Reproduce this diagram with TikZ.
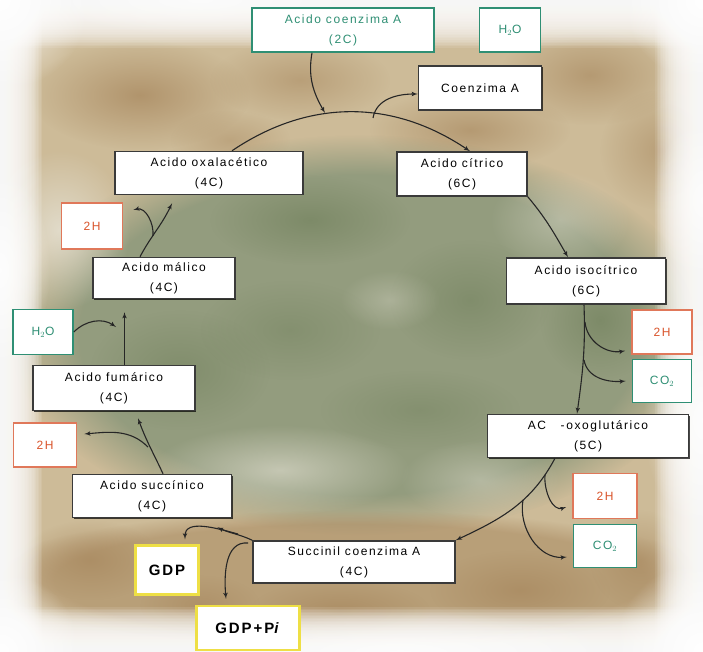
\documentclass[tikz,border=0pt]{standalone}
\usepackage{fontspec}
\setmainfont{Liberation Sans}[LetterSpace=13]
\usetikzlibrary{arrows,fadings,shadows}
\definecolor{edgegray}{HTML}{3A3A3A}
\definecolor{krebsgreen}{HTML}{2F8F74}
\definecolor{krebsred}{HTML}{D9542B}
\definecolor{redline}{HTML}{E0785A}
\definecolor{krebsyellow}{HTML}{EEDF45}
\definecolor{bgtan}{HTML}{CDBB98}
\definecolor{bgbrown}{HTML}{A5845A}
\definecolor{bggreen}{HTML}{8A977A}
\definecolor{bgdark}{HTML}{6F7F5A}
\definecolor{bglight}{HTML}{E6E3D6}
\tikzfading[name=softblob, inner color=transparent!0, outer color=transparent!100]
\tikzset{>=latex', x=1pt, y=1pt, font=\fontsize{12}{20}\selectfont}
\tikzstyle{acid} = [draw=edgegray, line width=1.5pt, fill=white, rectangle, align=center, minimum height=44,
	drop shadow={shadow xshift=1pt, shadow yshift=-1pt, opacity=.7, fill=black}]
\tikzstyle{gain} = [draw=krebsgreen, text=krebsgreen, line width=1.6pt, fill=white, rectangle, align=center, minimum height=44]
\tikzstyle{redox} = [draw=redline, text=krebsred, line width=1.6pt, fill=white, rectangle, align=center, minimum height=44]
\tikzstyle{gdpbox} = [draw=krebsyellow, line width=2.2pt, fill=white, rectangle, align=center, minimum height=46, font=\bfseries\fontsize{15}{15}\selectfont]
\tikzstyle{flow} = [->, line width=1.1pt, draw=black!85]
\tikzstyle{blob} = [path fading=softblob]

\begin{document}
\begin{tikzpicture}
	\useasboundingbox (0,0) rectangle (703,-652);

	% background
	\fill[bgtan] (0,0) rectangle (703,-652);
	\fill[bgbrown, opacity=.7, blob] (140,-95) ellipse [x radius=110, y radius=55];
	\fill[bgbrown, opacity=.5, blob] (300,-80) ellipse [x radius=90, y radius=40];
	\fill[bgbrown, opacity=.6, blob] (470,-130) ellipse [x radius=100, y radius=40];
	\fill[bgbrown, opacity=.6, blob] (590,-75) ellipse [x radius=90, y radius=50];
	\fill[bgbrown, opacity=.5, blob] (660,-150) ellipse [x radius=60, y radius=60];
	\fill[bgbrown, opacity=.4, blob] (230,-140) ellipse [x radius=60, y radius=30];
	\fill[bggreen, opacity=.85, path fading=circle with fuzzy edge 20 percent] (360,-335) ellipse [x radius=350, y radius=200];
	\fill[bgdark, opacity=.6, blob] (310,-220) ellipse [x radius=100, y radius=45];
	\fill[bgdark, opacity=.5, blob] (470,-300) ellipse [x radius=80, y radius=60];
	\fill[bgdark, opacity=.6, blob] (600,-320) ellipse [x radius=60, y radius=60];
	\fill[bgdark, opacity=.5, blob] (180,-370) ellipse [x radius=90, y radius=60];
	\fill[bgdark, opacity=.4, blob] (420,-410) ellipse [x radius=100, y radius=40];
	\fill[bgdark, opacity=.4, blob] (290,-330) ellipse [x radius=90, y radius=50];
	\fill[bglight, opacity=.8, blob] (60,-230) ellipse [x radius=70, y radius=80];
	\fill[bglight, opacity=.6, blob] (280,-470) ellipse [x radius=130, y radius=45];
	\fill[bglight, opacity=.4, blob] (480,-480) ellipse [x radius=80, y radius=40];
	\fill[bglight, opacity=.4, blob] (560,-220) ellipse [x radius=70, y radius=50];
	\fill[bglight, opacity=.3, blob] (390,-300) ellipse [x radius=50, y radius=30];
	\fill[bgbrown, opacity=.5, path fading=circle with fuzzy edge 20 percent] (350,-580) ellipse [x radius=370, y radius=70];
	\fill[bgbrown, opacity=.6, blob] (90,-560) ellipse [x radius=70, y radius=40];
	\fill[bgbrown, opacity=.5, blob] (200,-605) ellipse [x radius=60, y radius=30];
	\fill[bgbrown, opacity=.6, blob] (340,-610) ellipse [x radius=90, y radius=30];
	\fill[bgbrown, opacity=.6, blob] (520,-590) ellipse [x radius=90, y radius=40];
	\fill[bgbrown, opacity=.5, blob] (640,-560) ellipse [x radius=50, y radius=50];
	\foreach \k in {1,...,30} {
		\fill[white, opacity=.1] (0,0) rectangle (1.4*\k,-652);
		\fill[white, opacity=.1] (703,0) rectangle (703-1.6*\k,-652);
		\fill[white, opacity=.1] (0,0) rectangle (703,-1.6*\k);
		\fill[white, opacity=.1] (0,-652) rectangle (703,-652+1.5*\k);
	}
	\fill[white, blob] (0,0) circle (90);
	\fill[white, blob] (703,0) circle (80);
	\fill[white, blob] (0,-652) circle (80);
	\fill[white, blob] (703,-652) circle (90);
	\fill[white, opacity=.8, blob] (0,-270) ellipse [x radius=50, y radius=100];
	\fill[white, opacity=.8, blob] (703,-420) ellipse [x radius=60, y radius=110];
	\fill[white, opacity=.7, blob] (703,-200) ellipse [x radius=50, y radius=80];
	\fill[white, opacity=.7, blob] (400,-652) ellipse [x radius=220, y radius=40];
	\fill[white, opacity=.6, blob] (200,0) ellipse [x radius=160, y radius=35];

	% boxes
	\node [gain, minimum width=182] (acetyl) at (343,-30) {Acido coenzima A\\(2C)};
	\node [gain, minimum width=61] (h2otop) at (510,-30) {H$_2$O};
	\node [acid, minimum width=123] (coa) at (480,-88) {Coenzima A};
	\node [acid, minimum width=188, minimum height=43] (oxalo) at (209,-173) {Acido oxalacético\\(4C)};
	\node [acid, minimum width=130] (citric) at (462,-174) {Acido cítrico\\(6C)};
	\node [redox, minimum width=61, minimum height=46] (h2a) at (92,-226) {2H};
	\node [acid, minimum width=142, minimum height=41] (malic) at (164,-278) {Acido málico\\(4C)};
	\node [acid, minimum width=159, minimum height=46] (isocitric) at (586,-281) {Acido isocítrico\\(6C)};
	\node [gain, minimum width=60, minimum height=45] (h2o) at (43,-332) {H$_2$O};
	\node [redox, minimum width=60] (h2b) at (662,-332) {2H};
	\node [gain, minimum width=59, minimum height=43] (co2a) at (662,-381) {CO$_2$};
	\node [acid, minimum width=162, minimum height=45] (fumaric) at (114,-388) {Acido fumárico\\(4C)};
	\node [acid, minimum width=201, minimum height=43] (akg) at (588,-436) {AC \ \ -oxoglutárico\\(5C)};
	\node [redox, minimum width=63] (h2c) at (45,-445) {2H};
	\node [acid, minimum width=159, minimum height=43] (succinic) at (152,-496) {Acido succínico\\(4C)};
	\node [redox, minimum width=64, minimum height=45] (h2d) at (605,-496) {2H};
	\node [gain, minimum width=63, minimum height=43] (co2b) at (605,-546) {CO$_2$};
	\node [acid, minimum width=202, minimum height=42] (succoa) at (354,-562) {Succinil coenzima A\\(4C)};
	\node [gdpbox, minimum width=63, minimum height=49] (gdp) at (167,-570) {GDP};
	\node [gdpbox, minimum width=103, minimum height=44] (gdppi) at (248,-628) {GDP+P\textit{i}};

	% points on the cycle
	\coordinate (acin) at (325,-113);
	\coordinate (coaout) at (373,-118);
	\coordinate (iso1) at (585,-322);
	\coordinate (iso2) at (584,-360);
	\coordinate (akg1) at (545,-475);
	\coordinate (akg2) at (523,-500);
	\coordinate (gdpfork) at (238,-534);
	\coordinate (pifork) at (248,-543);
	\coordinate (sufork) at (148,-447);
	\coordinate (h2oin) at (116,-327);
	\coordinate (mafork) at (153,-236);

	% cycle
	\draw [flow] ([xshift=23]oxalo.north) to[out=34,in=146] ([xshift=8]citric.north);
	\draw [flow] ([xshift=-31]acetyl.south) to[out=-100,in=120] (acin);
	\draw [flow] (coaout) to[out=80,in=180] ([yshift=-6]coa.west);
	\draw [flow] (citric.south east) to[out=-50,in=120] ([xshift=-18]isocitric.north);
	\draw [flow] ([xshift=-2]isocitric.south) to[out=-88,in=82] ([xshift=-11]akg.north);
	\draw [flow] (iso1) to[out=-85,in=190] ([shift={(-6,4)}]h2b.south west);
	\draw [flow] (iso2) to[out=-80,in=185] ([xshift=-6]co2a.west);
	\draw [flow] ([xshift=-33]akg.south) to[out=-118,in=25] (succoa.north east);
	\draw [flow] (akg1) to[out=-95,in=200] ([shift={(-6,-11)}]h2d.west);
	\draw [flow] (akg2) to[out=-100,in=185] ([shift={(-6,-11)}]co2b.west);
	\draw [flow] (succoa.north west) to[out=155,in=-25] ([shift={(-15,-9)}]succinic.south east);
	\draw [flow] (gdpfork) to[out=165,in=90] ([shift={(18,5)}]gdp.north);
	\draw [flow] (pifork) to[out=175,in=95] ([shift={(-22,6)}]gdppi.north);
	\draw [flow] ([xshift=11]succinic.north) to[out=115,in=-70] ([shift={(24,-7)}]fumaric.south);
	\draw [flow] (sufork) to[out=135,in=5] ([shift={(7,11)}]h2c.east);
	\draw [flow] ([xshift=10.5]fumaric.north) -- ([shift={(-39.5,-13)}]malic.south);
	\draw [flow] (h2o.east) to[out=45,in=145] (h2oin);
	\draw [flow] ([xshift=-24]malic.north) to[out=62,in=-115] ([shift={(-37,-8)}]oxalo.south);
	\draw [flow] (mafork) to[out=85,in=15] ([shift={(10,16)}]h2a.east);
\end{tikzpicture}
\end{document}
